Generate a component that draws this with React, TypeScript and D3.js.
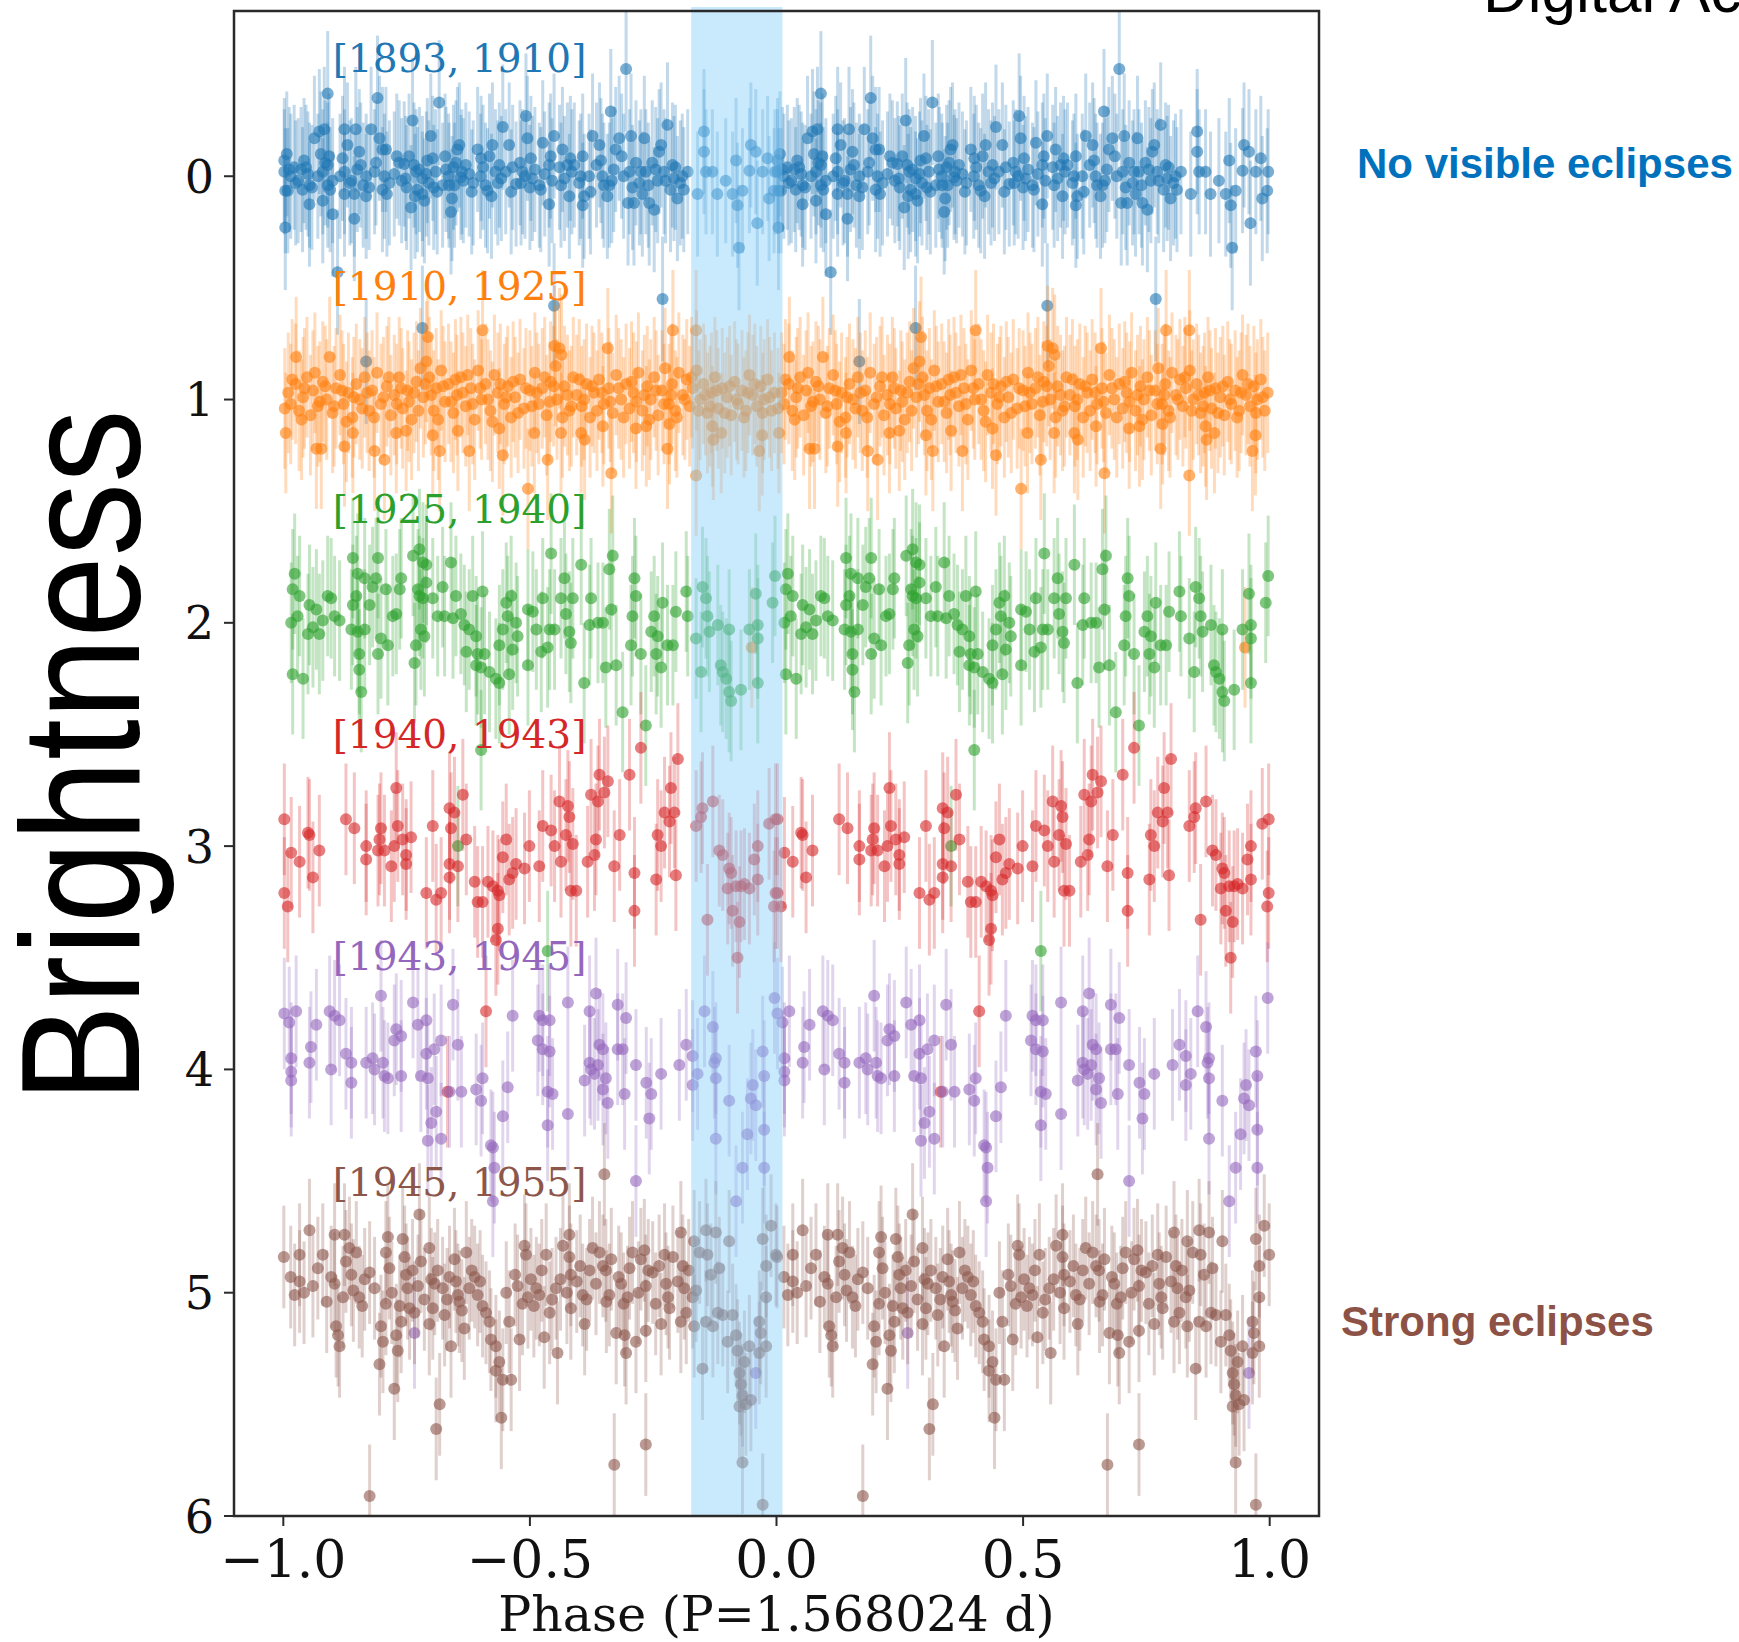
import React from "react";
import * as d3 from "d3";

// ---------- data (phase in [-1, 0), brightness with offsets) ----------
// Each phase-folded light curve is drawn twice: at phase p and p + 1.
const SERIES_LABELS = ["[1893, 1910]", "[1910, 1925]", "[1925, 1940]", "[1940, 1943]", "[1943, 1945]", "[1945, 1955]"];
const SERIES_COLORS = ["#1f77b4", "#ff7f0e", "#2ca02c", "#d62728", "#9467bd", "#8c564b"];
const SERIES_ERR = [0.28, 0.27, 0.27, 0.25, 0.25, 0.23];
const LABEL_PHASE = -0.9;
const LABEL_OFFSETS = [-0.467, -0.445, -0.445, -0.44, -0.445, -0.435];

const blueData: [number, number][] = [
  [-0.998,-0.07],[-0.998,-0.02],[-0.996,0.065],[-0.996,0.23],[-0.991,0.065],[-0.988,-0.03],[-0.978,-0.04],[-0.964,-0.03],[-0.961,0.06],[-0.954,-0.04],[-0.947,0.04],[-0.947,0.125],[-0.937,-0.17],[-0.927,-0.2],[-0.92,0.11],[-0.92,-0.02],[-0.917,-0.21],[-0.91,-0.37],[-0.91,0.04],[-0.907,-0.09],[-0.91,-0.05],[-0.9,0.17],[-0.89,0.43],[-0.876,-0.21],[-0.876,-0.02],[-0.876,0.08],[-0.87,-0.14],[-0.856,0.19],[-0.856,0.08],[-0.853,-0.21],[-0.843,-0.05],[-0.832,0.0],[-0.832,0.09],[-0.832,0.83],[-0.822,-0.21],[-0.809,-0.35],[-0.805,-0.17],[-0.799,-0.12],[-0.792,-0.12],[-0.795,0.0],[-0.799,0.06],[-0.765,-0.06],[-0.755,-0.055],[-0.745,-0.09],[-0.741,0.14],[-0.738,-0.25],[-0.731,-0.02],[-0.724,-0.03],[-0.718,0.01],[-0.718,0.08],[-0.718,0.68],[-0.714,0.11],[-0.701,-0.18],[-0.697,-0.08],[-0.684,-0.33],[-0.691,-0.02],[-0.677,0.04],[-0.66,0.16],[-0.65,-0.06],[-0.647,-0.12],[-0.643,-0.14],[-0.64,0.005],[-0.653,0.04],[-0.664,0.04],[-0.623,-0.01],[-0.606,-0.12],[-0.599,-0.08],[-0.582,-0.09],[-0.586,0.065],[-0.576,-0.14],[-0.562,-0.05],[-0.555,-0.22],[-0.549,-0.02],[-0.542,-0.14],[-0.528,0.035],[-0.508,-0.27],[-0.505,-0.17],[-0.515,-0.02],[-0.495,0.01],[-0.481,0.04],[-0.474,-0.15],[-0.461,0.125],[-0.451,-0.18],[-0.461,-0.05],[-0.451,0.58],[-0.434,-0.12],[-0.424,-0.05],[-0.42,0.09],[-0.41,-0.05],[-0.393,-0.09],[-0.39,0.09],[-0.393,0.13],[-0.373,-0.18],[-0.359,-0.14],[-0.353,0.0],[-0.343,0.09],[-0.339,0.04],[-0.336,-0.29],[-0.326,-0.12],[-0.319,-0.17],[-0.305,-0.48],[-0.295,-0.18],[-0.301,0.12],[-0.298,-0.02],[-0.289,0.12],[-0.278,0.03],[-0.268,-0.17],[-0.265,-0.02],[-0.258,0.12],[-0.248,0.15],[-0.241,0.02],[-0.238,-0.11],[-0.234,-0.14],[-0.231,0.55],[-0.221,-0.23],[-0.211,-0.05],[-0.201,0.1],[-0.191,0.0],[-0.18,-0.02],[-0.16,0.08],[-0.147,-0.2],[-0.147,-0.11],[-0.143,-0.02],[-0.13,-0.02],[-0.12,0.08],[-0.103,0.02],[-0.089,0.08],[-0.082,-0.07],[-0.079,0.13],[-0.076,0.32],[-0.069,0.065],[-0.052,-0.14],[-0.055,-0.025],[-0.042,-0.11],[-0.039,0.21],[-0.028,-0.02],[-0.018,-0.08],[-0.015,0.1],[-0.003,-0.02],[-0.005,0.065],
  [-0.985,0.0],[-0.97,0.02],[-0.95,-0.01],[-0.93,0.0],[-0.915,-0.06],[-0.9,0.02],[-0.885,0.0],[-0.865,0.03],[-0.85,-0.03],[-0.838,0.04],[-0.815,-0.02],[-0.785,0.03],[-0.775,-0.01],[-0.76,0.02],[-0.75,0.05],[-0.735,-0.05],[-0.728,0.06],[-0.71,-0.01],[-0.705,0.03],[-0.695,0.05],[-0.67,-0.03],[-0.665,0.0],[-0.655,-0.04],[-0.635,0.02],[-0.63,-0.05],[-0.615,0.03],[-0.6,0.0],[-0.59,0.04],[-0.57,-0.02],[-0.565,0.03],[-0.535,-0.04],[-0.52,-0.06],[-0.51,0.0],[-0.5,0.05],[-0.49,-0.03],[-0.47,-0.01],[-0.455,0.02],[-0.44,-0.04],[-0.43,0.01],[-0.415,-0.02],[-0.4,0.03],[-0.38,0.0],[-0.365,-0.05],[-0.35,0.04],[-0.33,-0.03],[-0.31,0.0],[-0.285,-0.06],[-0.275,-0.02],[-0.26,0.04],[-0.245,-0.03],[-0.225,0.02],[-0.215,0.06],[-0.205,-0.04],[-0.195,0.03],
  [-0.993,-0.1],[-0.975,0.03],[-0.958,-0.07],[-0.942,0.05],[-0.924,-0.1],[-0.905,0.06],[-0.88,-0.08],[-0.862,0.02],[-0.846,-0.11],[-0.826,0.05],[-0.812,-0.06],[-0.79,0.08],[-0.77,-0.09],[-0.752,0.01],[-0.733,0.09],[-0.708,-0.07],[-0.688,0.07],[-0.672,-0.09],[-0.658,0.1],[-0.638,-0.02],[-0.618,0.07],[-0.595,-0.04],[-0.578,0.09],[-0.558,0.01],[-0.538,0.07],[-0.518,0.03],[-0.498,-0.08],[-0.478,0.06],[-0.458,-0.09],[-0.437,0.04],[-0.418,-0.08],[-0.397,0.0],[-0.377,0.07],[-0.356,-0.07],[-0.334,0.02],[-0.314,-0.09],[-0.292,0.05],[-0.272,0.08],[-0.252,-0.06],[-0.228,-0.02],[-0.208,0.01],[-0.188,0.06],
];

const orangeData: [number, number][] = [
  [-0.995,1.15],[-0.974,0.81],[-0.933,1.22],[-0.923,1.22],[-0.906,0.81],[-0.876,1.21],[-0.859,1.15],[-0.815,1.23],[-0.795,1.27],[-0.771,1.15],[-0.751,1.14],[-0.707,0.72],[-0.697,1.16],[-0.683,1.23],[-0.646,1.14],[-0.623,1.23],[-0.596,0.69],[-0.562,1.13],[-0.555,1.25],[-0.504,1.4],[-0.491,1.15],[-0.464,1.27],[-0.45,0.76],[-0.44,0.77],[-0.436,0.8],[-0.437,1.15],[-0.396,1.15],[-0.389,1.18],[-0.352,1.12],[-0.342,0.77],[-0.335,1.33],[-0.285,1.13],[-0.264,1.12],[-0.221,1.22],[-0.217,1.11],[-0.21,0.69],[-0.163,0.69],[-0.163,1.34],[-0.13,1.12],[-0.128,1.18],[-0.112,1.15],[-0.035,1.23],[-0.029,1.16],[-0.05,2.11],
  [-0.99,0.97],[-0.985,1.02],[-0.975,0.93],[-0.968,1.05],[-0.96,0.99],[-0.952,0.9],[-0.945,1.07],[-0.94,0.96],[-0.93,1.03],[-0.92,0.92],[-0.912,1.0],[-0.9,1.06],[-0.893,0.95],[-0.885,0.89],[-0.878,1.02],[-0.868,0.97],[-0.86,1.08],[-0.852,0.93],[-0.845,1.0],[-0.835,0.9],[-0.826,1.05],[-0.82,0.96],[-0.81,0.88],[-0.802,1.02],[-0.79,0.94],[-0.782,1.07],[-0.775,0.98],[-0.765,0.9],[-0.758,1.04],[-0.748,0.96],[-0.74,1.09],[-0.73,0.92],[-0.722,0.86],[-0.716,0.99],[-0.71,0.83],[-0.704,0.9],[-0.695,1.05],[-0.69,0.95],[-0.68,0.87],[-0.672,1.01],[-0.665,0.93],[-0.655,1.06],[-0.648,0.98],[-0.64,0.9],[-0.63,1.03],[-0.62,0.95],[-0.612,1.09],[-0.605,0.87],[-0.598,1.0],[-0.59,0.93],[-0.58,1.05],[-0.572,0.89],[-0.565,0.97],[-0.552,1.02],[-0.545,0.94],[-0.538,1.08],[-0.53,0.99],[-0.52,0.91],[-0.512,1.04],[-0.5,0.96],[-0.49,0.88],[-0.482,1.02],[-0.475,0.95],[-0.466,1.07],[-0.458,0.92],[-0.448,0.85],[-0.445,1.0],[-0.43,0.94],[-0.42,1.05],[-0.412,0.9],[-0.405,0.98],[-0.395,1.03],[-0.385,0.93],[-0.378,1.08],[-0.37,0.97],[-0.36,0.91],[-0.35,1.02],[-0.34,0.95],[-0.332,1.06],[-0.325,0.89],[-0.315,1.0],[-0.305,0.93],[-0.298,1.04],[-0.29,0.97],[-0.28,0.88],[-0.272,1.05],[-0.262,0.94],[-0.255,1.0],[-0.248,0.9],[-0.24,1.07],[-0.232,0.96],[-0.226,0.86],[-0.218,1.02],[-0.212,0.93],[-0.205,1.05],[-0.198,0.88],[-0.19,0.98],[-0.182,0.91],[-0.176,1.03],[-0.17,0.95],[-0.162,0.87],[-0.155,1.0],[-0.148,0.93],[-0.14,1.06],[-0.132,0.97],[-0.125,0.9],[-0.118,1.04],[-0.11,0.95],[-0.1,0.99],[-0.092,1.07],[-0.085,0.92],[-0.078,1.02],[-0.07,0.96],[-0.062,1.05],[-0.055,0.89],[-0.048,0.98],[-0.04,1.03],[-0.032,0.94],[-0.025,1.0],[-0.018,0.91],[-0.01,1.05],[-0.004,0.97],
  [-0.997,1.04],[-0.982,0.91],[-0.963,1.09],[-0.957,0.95],[-0.936,0.88],[-0.926,1.01],[-0.915,0.94],[-0.897,1.03],[-0.881,0.96],[-0.872,1.1],[-0.857,0.99],[-0.84,1.04],[-0.83,0.97],[-0.816,1.08],[-0.797,0.99],[-0.786,0.9],[-0.77,1.02],[-0.761,0.95],[-0.745,1.01],[-0.735,0.97],[-0.726,1.05],[-0.712,0.93],[-0.7,0.98],[-0.686,1.09],[-0.676,0.94],[-0.66,1.01],[-0.651,0.91],[-0.636,0.97],[-0.626,0.89],[-0.616,1.02],[-0.601,0.95],[-0.585,1.0],[-0.576,1.1],[-0.56,0.93],[-0.548,0.99],[-0.534,0.92],[-0.524,1.06],[-0.508,0.95],[-0.496,1.03],[-0.486,0.97],[-0.47,0.9],[-0.46,1.01],[-0.452,0.94],[-0.434,1.08],[-0.424,0.98],[-0.416,1.03],[-0.4,0.91],[-0.39,1.0],[-0.374,0.94],[-0.364,1.05],[-0.354,0.97],[-0.337,1.01],[-0.32,0.95],[-0.31,1.08],[-0.294,0.92],[-0.284,1.01],[-0.268,0.98],[-0.258,1.09],[-0.244,0.96],[-0.228,1.02],[-0.214,0.98],[-0.202,1.08],[-0.186,1.0],[-0.172,0.9],[-0.158,1.05],[-0.144,0.98],[-0.135,1.03],[-0.121,0.96],[-0.105,1.06],[-0.095,0.94],[-0.081,1.0],[-0.066,1.08],[-0.058,0.97],[-0.044,0.93],[-0.028,1.06],[-0.014,0.99],
];

const greenData: [number, number][] = [
  [-0.977,1.78],[-0.981,1.85],[-0.984,2.0],[-0.971,1.97],[-0.981,2.23],[-0.96,2.25],[-0.967,1.88],[-0.947,1.92],[-0.95,2.05],[-0.94,2.02],[-0.927,2.05],[-0.933,1.94],[-0.92,1.99],[-0.91,1.88],[-0.903,1.89],[-0.896,1.97],[-0.886,1.99],
  [-0.859,1.71],[-0.849,1.78],[-0.859,1.92],[-0.852,1.88],[-0.862,2.03],[-0.849,2.04],[-0.846,2.14],[-0.846,2.21],[-0.842,2.31],[-0.835,1.8],[-0.825,1.92],[-0.835,2.03],[-0.819,1.84],[-0.808,1.71],[-0.812,1.8],[-0.808,2.14],[-0.802,2.07],[-0.788,2.1],[-0.792,1.85],[-0.778,1.97],[-0.771,1.96],[-0.764,1.85],[-0.761,1.8],
  [-0.737,1.7],[-0.724,1.67],[-0.717,1.73],[-0.71,1.74],[-0.727,1.85],[-0.724,1.88],[-0.717,1.89],[-0.71,1.82],[-0.731,2.1],[-0.734,2.18],[-0.721,2.03],[-0.714,2.06],[-0.697,1.89],[-0.687,1.97],[-0.677,1.84],[-0.66,1.73],[-0.673,1.97],[-0.656,1.98],[-0.65,1.88],[-0.64,1.96],[-0.633,2.01],[-0.629,2.13],[-0.623,2.03],[-0.616,1.88],[-0.609,2.06],[-0.606,2.14],[-0.609,2.19],[-0.599,2.2],[-0.596,1.86],[-0.592,2.14],[-0.582,2.22],[-0.569,2.25],[-0.562,2.27],[-0.562,2.1],[-0.555,2.03],[-0.548,1.91],[-0.545,1.97],[-0.542,2.23],[-0.535,2.12],[-0.528,2.0],[-0.525,2.06],[-0.538,1.88],[-0.504,1.94],[-0.504,2.19],[-0.494,1.95],[-0.487,2.03],[-0.477,2.13],[-0.474,1.89],[-0.464,2.11],[-0.457,1.69],[-0.46,2.03],[-0.45,2.03],[-0.437,1.89],[-0.43,1.8],[-0.427,1.96],[-0.42,2.04],[-0.417,2.09],[-0.413,1.89],[-0.396,1.74],[-0.39,2.27],[-0.379,2.01],[-0.376,1.89],[-0.362,2.0],[-0.352,2.0],[-0.346,2.2],[-0.339,1.76],[-0.335,1.94],[-0.332,1.7],[-0.325,2.19],[-0.295,2.1],[-0.288,1.8],[-0.285,1.88],[-0.292,1.97],[-0.275,2.14],[-0.254,2.04],[-0.248,1.97],[-0.244,2.14],[-0.241,2.06],[-0.234,2.2],[-0.231,1.91],[-0.221,2.1],[-0.21,2.1],[-0.204,1.95],[-0.183,1.86],[-0.18,1.97],
  [-0.163,2.07],[-0.153,2.22],[-0.15,1.84],[-0.143,1.89],[-0.14,1.97],[-0.136,2.04],[-0.119,2.01],[-0.113,2.19],[-0.109,2.22],[-0.102,2.25],[-0.096,2.31],[-0.092,2.35],[-0.096,2.03],[-0.072,2.3],[-0.055,2.03],[-0.042,1.87],[-0.038,2.01],[-0.038,2.07],[-0.038,2.27],[-0.008,1.91],[-0.003,1.79],
  [-0.599,2.57],[-0.312,2.4],[-0.265,2.46],[-0.646,3.0],[-0.464,3.47],
];

const redData: [number, number][] = [
  [-0.998,2.88],[-0.984,3.03],[-0.967,3.07],[-0.998,3.21],[-0.991,3.27],[-0.95,2.94],[-0.947,2.95],[-0.94,3.14],[-0.927,3.02],
  [-0.873,2.88],[-0.856,2.92],[-0.832,3.0],[-0.832,3.06],[-0.808,3.02],[-0.802,2.92],[-0.805,2.97],[-0.795,3.02],[-0.781,3.09],[-0.775,3.0],[-0.771,2.74],[-0.768,2.91],[-0.758,2.97],[-0.751,3.04],[-0.751,3.08],[-0.741,2.96],
  [-0.71,3.21],[-0.697,2.91],[-0.69,3.24],[-0.68,3.21],[-0.663,2.83],[-0.66,2.92],[-0.653,2.85],[-0.663,3.08],[-0.663,3.14],[-0.646,3.09],[-0.636,2.77],[-0.629,2.97],
  [-0.612,3.16],[-0.606,3.25],[-0.596,3.25],[-0.585,3.16],[-0.575,3.18],[-0.565,3.2],[-0.562,3.22],[-0.565,3.37],[-0.569,3.42],[-0.555,3.05],[-0.548,2.97],[-0.542,3.15],[-0.535,3.12],[-0.528,3.08],[-0.511,3.1],[-0.501,3.0],[-0.481,3.09],[-0.474,2.91],[-0.457,2.93],[-0.45,3.0],[-0.437,3.07],[-0.44,2.8],[-0.427,2.95],[-0.423,2.82],[-0.42,2.87],[-0.417,3.2],[-0.413,2.99],[-0.406,3.2],
  [-0.383,3.07],[-0.376,2.77],[-0.362,2.8],[-0.359,2.68],[-0.349,2.76],[-0.342,2.71],[-0.366,2.97],[-0.369,3.04],[-0.329,3.09],[-0.318,2.95],[-0.298,2.68],[-0.288,3.12],[-0.288,3.29],[-0.244,3.15],[-0.241,2.95],[-0.234,3.0],[-0.227,2.85],[-0.217,2.89],[-0.214,2.74],[-0.207,2.85],[-0.204,3.13],[-0.2,2.61],[-0.275,2.56],
  [-0.163,2.91],[-0.153,2.87],[-0.15,2.83],[-0.129,2.8],[-0.116,3.02],[-0.109,3.04],[-0.096,3.1],[-0.092,3.12],[-0.099,3.19],[-0.082,3.18],[-0.072,3.18],[-0.065,3.17],[-0.055,3.19],[-0.045,3.06],[-0.038,3.0],[-0.038,3.15],[-0.089,3.29],[-0.075,3.34],[-0.079,3.5],[-0.14,3.33],[-0.015,2.9],[-0.002,2.88],[-0.002,3.21],[-0.005,3.27],
  [-0.589,3.74],[-0.667,4.1],
];

const purpleData: [number, number][] = [
  [-0.998,3.75],[-0.988,3.79],[-0.974,3.74],[-0.984,3.95],[-0.984,4.01],[-0.984,4.05],[-0.947,3.97],[-0.944,3.9],[-0.933,3.8],[-0.906,3.74],[-0.896,3.76],[-0.886,3.78],[-0.903,4.0],[-0.873,3.93],[-0.862,3.97],[-0.862,4.06],[-0.832,3.97],[-0.819,3.95],[-0.815,4.0],[-0.798,3.97],[-0.795,4.03],[-0.802,3.67],[-0.788,4.04],[-0.771,3.82],[-0.761,3.85],[-0.775,3.87],[-0.761,4.03],[-0.737,3.7],[-0.727,3.8],[-0.71,3.78],[-0.721,4.03],[-0.707,4.04],[-0.71,3.93],[-0.694,3.91],[-0.68,3.87],[-0.69,4.19],[-0.7,4.24],[-0.707,4.32],[-0.68,4.31],[-0.656,3.71],[-0.646,3.89],[-0.663,4.1],[-0.639,4.1],[-0.609,4.09],[-0.596,4.04],[-0.599,4.14],[-0.579,4.34],[-0.575,4.35],[-0.572,4.44],[-0.575,4.59],[-0.555,4.21],[-0.545,4.08],[-0.535,3.76],[-0.481,3.76],[-0.474,3.78],[-0.46,3.78],[-0.484,3.87],[-0.474,3.91],[-0.46,3.92],[-0.464,4.1],[-0.454,4.11],[-0.464,4.25],[-0.423,3.7],[-0.423,4.2],[-0.379,3.74],[-0.366,3.66],[-0.359,3.89],[-0.352,3.91],[-0.379,3.97],[-0.376,4.0],[-0.362,3.98],[-0.389,4.05],[-0.369,4.02],[-0.346,4.04],[-0.352,4.09],[-0.342,4.15],[-0.322,3.71],[-0.305,3.77],[-0.322,3.91],[-0.312,3.91],[-0.308,4.11],[-0.285,3.98],[-0.285,4.5],[-0.264,4.06],[-0.254,4.11],[-0.258,4.22],[-0.234,4.02],[-0.197,3.98],[-0.183,3.89],
  [-0.17,3.94],[-0.17,4.07],[-0.16,4.02],[-0.146,3.74],[-0.129,3.81],[-0.123,3.95],[-0.126,3.97],[-0.123,4.04],[-0.123,4.31],[-0.096,4.14],[-0.082,4.59],[-0.069,4.44],[-0.059,4.29],[-0.052,4.13],[-0.048,4.07],[-0.042,4.16],[-0.025,4.03],[-0.025,4.27],[-0.025,4.44],[-0.028,3.92],[-0.004,3.68],
  [-0.734,5.18],[-0.042,5.36],
];

const brownData: [number, number][] = [
  [-0.999,4.84],[-0.977,5.01],[-0.967,4.95],[-0.967,4.83],[-0.947,4.72],[-0.93,4.89],[-0.92,4.83],[-0.903,4.93],[-0.896,4.74],[-0.896,4.96],[-0.893,5.15],[-0.889,5.19],[-0.886,5.24],[-0.879,5.02],[-0.876,4.74],[-0.873,4.86],[-0.866,4.8],[-0.862,4.92],[-0.852,4.82],[-0.846,5.02],[-0.835,4.94],[-0.825,4.91],[-0.825,5.91],[-0.805,5.32],[-0.802,5.15],[-0.798,5.22],[-0.792,5.05],[-0.788,4.75],[-0.792,4.82],[-0.785,4.89],[-0.775,5.43],[-0.771,5.19],[-0.768,5.26],[-0.764,5.06],[-0.761,5.13],[-0.758,4.76],[-0.754,4.84],[-0.751,4.92],[-0.744,5.07],[-0.734,5.09],[-0.724,4.65],[-0.721,4.86],[-0.727,4.97],[-0.704,4.8],[-0.7,4.94],[-0.697,5.07],[-0.704,5.14],[-0.69,5.61],[-0.683,5.5],[-0.687,4.9],[-0.677,4.98],[-0.673,5.1],[-0.663,4.93],[-0.66,5.24],[-0.653,4.85],[-0.646,5.01],[-0.643,5.04],[-0.633,5.16],[-0.629,4.82],[-0.623,4.98],[-0.612,4.93],[-0.606,5.01],[-0.596,5.06],[-0.589,5.09],[-0.582,5.13],[-0.579,5.21],[-0.569,5.24],[-0.562,5.31],[-0.569,5.35],[-0.555,5.39],[-0.542,5.13],[-0.538,5.39],[-0.558,5.56],[-0.525,4.97],[-0.521,5.21],[-0.511,4.79],[-0.508,4.83],[-0.504,5.02],[-0.498,4.94],[-0.487,4.98],[-0.481,5.01],[-0.471,5.2],[-0.467,4.83],[-0.46,5.09],[-0.447,4.98],[-0.444,5.27],[-0.433,4.79],[-0.42,4.74],[-0.42,4.84],[-0.417,4.92],[-0.417,5.07],[-0.393,5.01],[-0.389,5.14],[-0.379,4.9],[-0.373,4.8],[-0.359,4.82],[-0.352,4.88],[-0.346,4.9],[-0.335,4.85],[-0.339,5.01],[-0.329,5.77],[-0.325,5.18],[-0.315,4.96],[-0.308,5.19],[-0.305,5.27],[-0.302,5.02],[-0.298,4.89],[-0.292,4.82],[-0.285,5.22],[-0.275,4.85],[-0.268,4.81],[-0.265,4.97],[-0.265,5.17],[-0.265,5.68],[-0.251,4.91],[-0.234,5.14],[-0.227,4.83],[-0.224,4.96],[-0.217,5.07],[-0.21,4.84],[-0.194,4.73],[-0.194,5.13],[-0.19,4.88],[-0.187,4.98],[-0.183,5.09],
  [-0.167,4.77],[-0.163,4.99],[-0.156,4.82],[-0.167,5.15],[-0.15,5.34],[-0.143,4.72],[-0.14,4.83],[-0.133,4.92],[-0.123,4.73],[-0.119,5.09],[-0.116,4.89],[-0.143,5.13],[-0.129,5.15],[-0.109,5.1],[-0.096,4.77],[-0.099,5.22],[-0.089,5.1],[-0.082,5.19],[-0.079,5.26],[-0.075,5.36],[-0.072,5.41],[-0.075,5.51],[-0.069,5.46],[-0.065,5.31],[-0.062,5.5],[-0.055,5.24],[-0.052,5.48],[-0.069,5.76],[-0.035,5.13],[-0.032,5.18],[-0.028,4.76],[-0.021,4.88],[-0.021,5.02],[-0.021,5.24],[-0.035,5.27],[-0.011,4.7],[-0.001,4.83],[-0.028,5.95],
  [-0.985,4.93],[-0.958,5.0],[-0.94,4.97],[-0.912,5.04],[-0.858,4.99],[-0.84,5.06],[-0.815,4.98],[-0.78,5.0],[-0.748,4.98],[-0.738,4.9],[-0.714,5.03],[-0.693,4.96],[-0.668,5.03],[-0.65,4.95],[-0.638,5.08],[-0.618,4.9],[-0.601,4.95],[-0.548,5.0],[-0.53,4.92],[-0.515,5.05],[-0.492,5.06],[-0.476,4.9],[-0.455,5.03],[-0.438,4.94],[-0.425,5.0],[-0.405,4.95],[-0.398,4.88],[-0.385,5.03],[-0.366,4.96],[-0.345,5.04],[-0.32,4.93],[-0.31,5.05],[-0.28,5.0],[-0.26,4.9],[-0.245,5.05],[-0.238,4.88],[-0.22,5.02],[-0.2,4.95],[-0.178,4.9],[-0.17,5.02],
  [-0.349,4.47],
];

const SERIES_DATA = [blueData, orangeData, greenData, redData, purpleData, brownData];

const X_TICKS = [-1.0, -0.5, 0.0, 0.5, 1.0];
const Y_TICKS = [0, 1, 2, 3, 4, 5, 6];
const X_DOMAIN: [number, number] = [-1.1, 1.1];
const Y_DOMAIN: [number, number] = [-0.74, 6];
const ECLIPSE_WINDOW: [number, number] = [-0.173, 0.012];
const X_LABEL = "Phase (P=1.568024 d)";
const Y_LABEL = "Brightness";
const NOTE_TOP = "No visible eclipses";
const NOTE_BOTTOM = "Strong eclipses";
const HEADER = "Digital Access";

export default function App() {
  const W = 1739;
  const H = 1642;
  const left = 234, right = 1319, top = 11, bottom = 1516;
  const x = d3.scaleLinear().domain(X_DOMAIN).range([left, right]);
  const y = d3.scaleLinear().domain(Y_DOMAIN).range([top, bottom]);
  const fmt = d3.format(".1f");
  const serif = "'DejaVu Serif', serif";
  const sans = "'Liberation Sans', Arial, Helvetica, sans-serif";

  return (
    <div style={{ position: "absolute", left: 0, top: 0, width: W, height: H, background: "#fff" }}>
      <svg width={W} height={H} viewBox={`0 0 ${W} ${H}`} style={{ display: "block" }}>
        <defs>
          <clipPath id="plotClip">
            <rect x={left} y={top} width={right - left} height={bottom - top} />
          </clipPath>
        </defs>
        <rect x={0} y={0} width={W} height={H} fill="#fff" />

        <g clipPath="url(#plotClip)">
          {SERIES_DATA.map((data, si) => {
            const pts = data.flatMap(([p, v]) => [[p, v], [p + 1, v]] as [number, number][]);
            const err = SERIES_ERR[si];
            const color = SERIES_COLORS[si];
            return (
              <g key={si}>
                {pts.map(([p, v], i) => (
                  <line key={"e" + i} x1={x(p)} x2={x(p)} y1={y(v - err)} y2={y(v + err)}
                    stroke={color} strokeOpacity={0.28} strokeWidth={3} />
                ))}
                {pts.map(([p, v], i) => (
                  <circle key={"c" + i} cx={x(p)} cy={y(v)} r={6} fill={color} fillOpacity={0.6} />
                ))}
              </g>
            );
          })}
          <rect x={x(ECLIPSE_WINDOW[0])} y={top - 4} width={x(ECLIPSE_WINDOW[1]) - x(ECLIPSE_WINDOW[0])}
            height={bottom - top + 4} fill="#87cefa" fillOpacity={0.45} />
        </g>
        <rect x={x(ECLIPSE_WINDOW[0])} y={7} width={x(ECLIPSE_WINDOW[1]) - x(ECLIPSE_WINDOW[0])}
          height={top - 7} fill="#c9e9fc" />

        {SERIES_LABELS.map((lab, i) => (
          <text key={lab} x={x(LABEL_PHASE)} y={y(i + LABEL_OFFSETS[i])} fill={SERIES_COLORS[i]}
            fontFamily={serif} fontSize={39}>{lab}</text>
        ))}

        <rect x={left} y={top} width={right - left} height={bottom - top} fill="none" stroke="#2a2a2a" strokeWidth={2.5} />

        {X_TICKS.map((t) => (
          <g key={"xt" + t}>
            <line x1={x(t)} x2={x(t)} y1={bottom} y2={bottom + 10} stroke="#2a2a2a" strokeWidth={2} />
            <text x={x(t)} y={1577} textAnchor="middle" fontFamily={serif} fontSize={52} fill="#111">{fmt(t)}</text>
          </g>
        ))}
        {Y_TICKS.map((t) => (
          <g key={"yt" + t}>
            <line x1={left - 10} x2={left} y1={y(t)} y2={y(t)} stroke="#2a2a2a" strokeWidth={2} />
            <text x={left - 20} y={y(t)} dy="0.36em" textAnchor="end" fontFamily={serif} fontSize={46} fill="#111">{t}</text>
          </g>
        ))}

        <text x={(left + right) / 2} y={1631} textAnchor="middle" fontFamily={serif} fontSize={49} fill="#111">{X_LABEL}</text>

        <text transform={`translate(139, 756) rotate(-90)`} textAnchor="middle" fontFamily={sans}
          fontWeight={300} fontSize={168} fill="#000" textLength={693} lengthAdjust="spacingAndGlyphs">{Y_LABEL}</text>

        <text x={1483} y={12} fontFamily={sans} fontWeight={300} fontSize={62} fill="#000">{HEADER}</text>
        <text x={1357} y={178} fontFamily={sans} fontWeight={700} fontSize={42} fill="#0071bc">{NOTE_TOP}</text>
        <text x={1341} y={1336} fontFamily={sans} fontWeight={700} fontSize={42} fill="#8c5246">{NOTE_BOTTOM}</text>
      </svg>
    </div>
  );
}
